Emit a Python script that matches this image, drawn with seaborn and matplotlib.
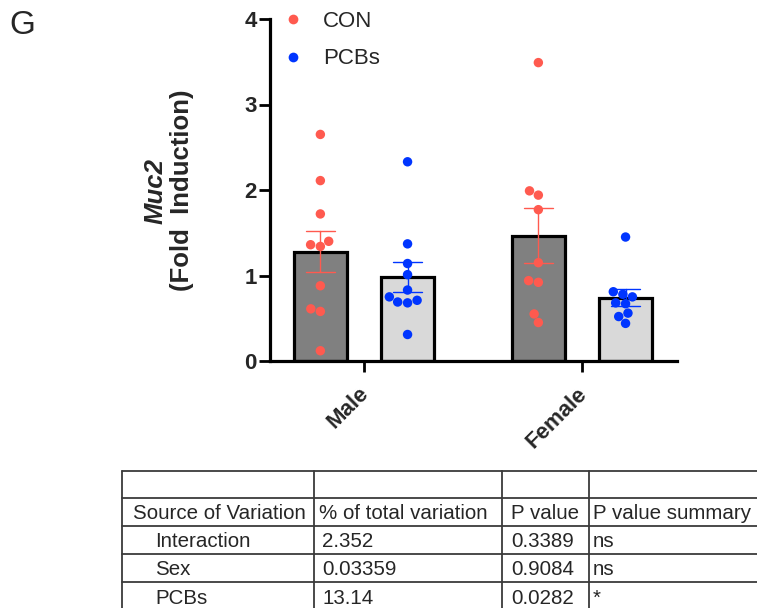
import numpy as np
import pandas as pd
import matplotlib
matplotlib.use("Agg")
import matplotlib.pyplot as plt
import matplotlib.transforms as mtransforms
import seaborn as sns

# ---------------- data ----------------
sexes = ["Male", "Female"]
treatments = ["CON", "PCBs"]

male_con = [2.65, 2.11, 1.72, 1.40, 1.36, 1.34, 0.88, 0.61, 0.58, 0.12]
male_pcb = [2.33, 1.37, 1.14, 1.01, 0.83, 0.75, 0.71, 0.69, 0.68, 0.31]
female_con = [3.49, 1.99, 1.94, 1.77, 1.15, 0.94, 0.92, 0.55, 0.45]
female_pcb = [1.45, 0.81, 0.78, 0.75, 0.68, 0.67, 0.56, 0.52, 0.44]

y_ticks = [0, 1, 2, 3, 4]

table_header = ["Source of Variation", "% of total variation", "P value", "P value summary"]
table_sources = ["Interaction", "Sex", "PCBs"]
table_pct = ["2.352", "0.03359", "13.14"]
table_p = ["0.3389", "0.9084", "0.0282"]
table_summary = ["ns", "ns", "*"]

# ---------------- styles ----------------
point_colors = {"CON": "#FF5A4F", "PCBs": "#0035FF"}
bar_fills = {"CON": "#808080", "PCBs": "#D9D9D9"}

rows = []
for sex, trt, vals in [("Male", "CON", male_con), ("Male", "PCBs", male_pcb),
                       ("Female", "CON", female_con), ("Female", "PCBs", female_pcb)]:
    for v in vals:
        rows.append({"Sex": sex, "Treatment": trt, "Value": v})
df = pd.DataFrame(rows)

sns.set_style("ticks")
plt.rcParams["font.family"] = ["Liberation Sans", "DejaVu Sans"]

W, H = 757, 608
fig = plt.figure(figsize=(W / 100, H / 100), dpi=100)


def fx(px):
    return px / W


def fy(py):
    return 1 - py / H


ax = fig.add_axes([fx(270), fy(361), fx(677) - fx(270), fy(19) - fy(361)])

sns.barplot(data=df, x="Sex", y="Value", hue="Treatment", order=sexes,
            hue_order=treatments, palette=bar_fills, saturation=1,
            errorbar=None, width=0.8, gap=0.4, edgecolor="black",
            linewidth=2.3, legend=False, ax=ax, zorder=2)

sns.pointplot(data=df, x="Sex", y="Value", hue="Treatment", order=sexes,
              hue_order=treatments, palette=point_colors, errorbar="se",
              dodge=0.4, linestyles="none", capsize=0.13,
              err_kws={"linewidth": 1.0, "zorder": 3},
              markersize=0, markeredgewidth=0, legend=False, ax=ax)

sns.swarmplot(data=df, x="Sex", y="Value", hue="Treatment", order=sexes,
              hue_order=treatments, palette=point_colors, dodge=True,
              size=6.8, linewidth=0, zorder=4, ax=ax)

# legend
leg = ax.get_legend()
handles = list(leg.legend_handles)
labels = [t.get_text() for t in leg.get_texts()]
leg.remove()
for h in handles:
    try:
        h.set_markersize(7)
    except Exception:
        pass
ax.legend(handles, labels, loc="upper left",
          bbox_to_anchor=(fx(284), fy(11)), bbox_transform=fig.transFigure,
          frameon=False, fontsize=16, handlelength=0.8, handletextpad=0.95,
          labelspacing=0.74, borderpad=0, borderaxespad=0)

ax.set_xlim(-0.431, 1.436)
ax.set_ylim(0, 4)
ax.set_yticks(y_ticks)
ax.set_xlabel("")
ax.set_ylabel("")
sns.despine(ax=ax)
for s in ["left", "bottom"]:
    ax.spines[s].set_linewidth(2.3)
    ax.spines[s].set_color("black")
ax.tick_params(axis="both", length=8, width=2, color="black", labelsize=16)
ax.tick_params(axis="y", pad=1.5)
ax.tick_params(axis="x", pad=5)
for lbl in ax.get_yticklabels():
    lbl.set_fontweight("bold")
shift = mtransforms.ScaledTranslation(-6 / 100, -4 / 100, fig.dpi_scale_trans)
for lbl in ax.get_xticklabels():
    lbl.set_fontweight("bold")
    lbl.set_rotation(45)
    lbl.set_ha("right")
    lbl.set_va("top")
    lbl.set_rotation_mode("anchor")
    lbl.set_transform(lbl.get_transform() + shift)

# y label (two lines, mixed styles)
fig.text(fx(156), fy(191), "Muc2", rotation=90, ha="center", va="center",
         fontsize=18.5, fontweight="bold", fontstyle="italic")
fig.text(fx(182), fy(190), "(Fold  Induction)", rotation=90, ha="center",
         va="center", fontsize=18.5, fontweight="bold")

# panel letter
fig.text(fx(9), fy(25), "G", ha="left", va="center", fontsize=24)

# ---------------- table ----------------
tab = fig.add_axes([0, 0, 1, 1], zorder=-1)
tab.set_xlim(0, W)
tab.set_ylim(H, 0)
tab.axis("off")
line_kw = dict(color="#3a3a3a", linewidth=1.3)
row_edges = [471, 497.5, 525.5, 553.5, 582, 610]
col_edges = [122, 314, 502, 589]
for yv in row_edges:
    tab.plot([col_edges[0], W + 5], [yv, yv], **line_kw)
for xv in col_edges:
    tab.plot([xv, xv], [row_edges[0], row_edges[-1]], **line_kw)

text_x = [133, 319, 511, 593]
indent_x = 155
centers = [(row_edges[i] + row_edges[i + 1]) / 2 for i in range(len(row_edges) - 1)]
tfs = 14.8
for j, t in enumerate(table_header):
    tab.text(text_x[j], centers[1], t, ha="left", va="center_baseline", fontsize=tfs)
for i in range(len(table_sources)):
    yc = centers[2 + i]
    tab.text(indent_x, yc, table_sources[i], ha="left", va="center_baseline", fontsize=tfs)
    tab.text(text_x[1] + 3, yc, table_pct[i], ha="left", va="center_baseline", fontsize=tfs)
    tab.text(text_x[2], yc, table_p[i], ha="left", va="center_baseline", fontsize=tfs)
    tab.text(text_x[3], yc, table_summary[i], ha="left", va="center_baseline", fontsize=tfs)

fig.savefig("out.png", dpi=100)
